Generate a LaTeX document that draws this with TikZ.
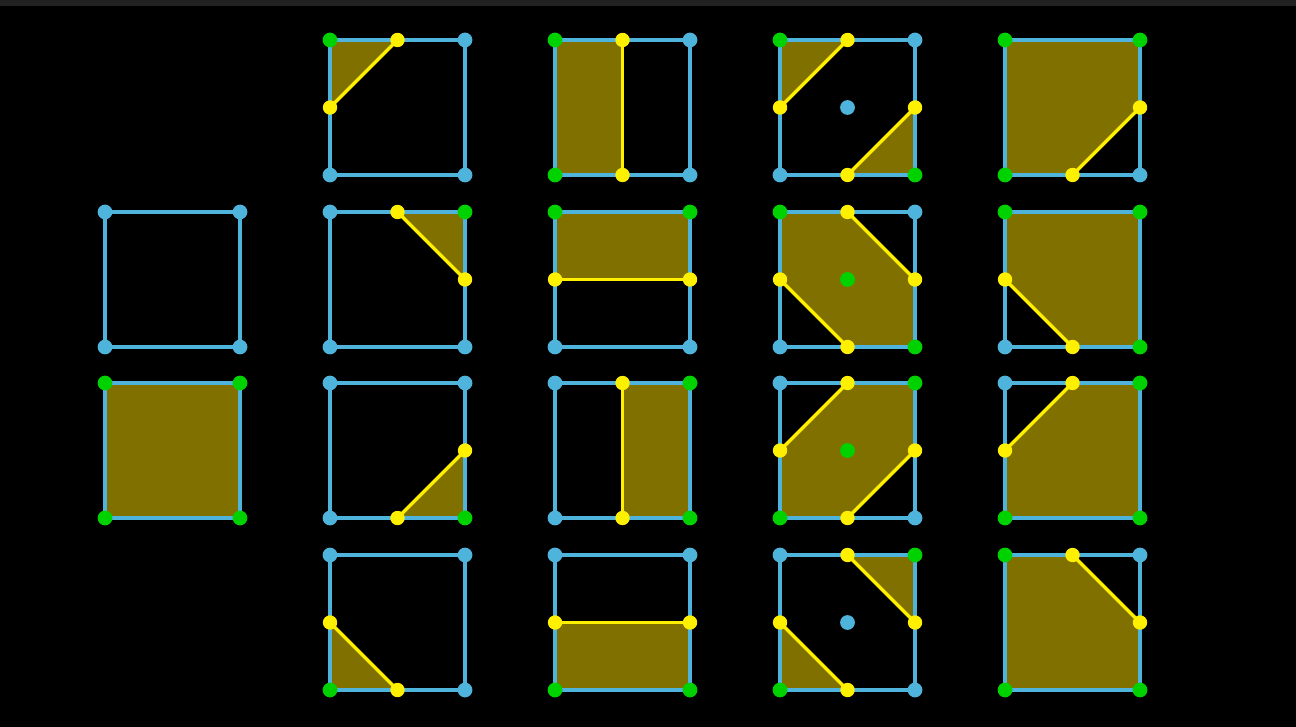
\documentclass[tikz,border=0pt]{standalone}
\usepackage{xcolor}
\usepackage{tikz}
\definecolor{MSbg}{HTML}{000000}
\definecolor{MSbar}{HTML}{222222}
\definecolor{MSedge}{HTML}{4FB4DC}
\definecolor{MSin}{HTML}{00D200}
\definecolor{MScut}{HTML}{FFF000}
\definecolor{MSfill}{HTML}{807000}

% corner / midpoint coordinates of one cell (top-left at #1,#2)
\newcommand{\setcell}[2]{%
  \coordinate (tl) at (#1,#2);     \coordinate (tr) at (#1+135,#2);
  \coordinate (br) at (#1+135,#2+135); \coordinate (bl) at (#1,#2+135);
  \coordinate (t) at (#1+67.5,#2);  \coordinate (r) at (#1+135,#2+67.5);
  \coordinate (b) at (#1+67.5,#2+135); \coordinate (l) at (#1,#2+67.5);
  \coordinate (c) at (#1+67.5,#2+67.5);
  \draw[edge] (tl) rectangle (br);}
\newcommand{\corners}[4]{%
  \fill[#1] (tl) circle (3.7pt); \fill[#2] (tr) circle (3.7pt);
  \fill[#3] (br) circle (3.7pt); \fill[#4] (bl) circle (3.7pt);}
\newcommand{\cutline}[2]{%
  \draw[cut] (#1) -- (#2);
  \fill[MScut] (#1) circle (3.6pt); \fill[MScut] (#2) circle (3.6pt);}

\begin{document}
\begin{tikzpicture}[
  x=0.5pt, y=-0.5pt,
  edge/.style={draw=MSedge, line width=1.7pt},
  cut/.style={draw=MScut, line width=1.6pt},
  area/.style={fill=MSfill},
  inside/.style={fill=MSin},
  outside/.style={fill=MSedge},
]
\useasboundingbox (0,0) rectangle (1296,727);
\fill[MSbg] (0,0) rectangle (1296,727);
\fill[MSbar] (0,0) rectangle (1296,6);

% ── column 0: empty / full ───────────────────────────────────────────
\setcell{105}{212}
\corners{outside}{outside}{outside}{outside}

\setcell{105}{383}
\fill[area] (tl) rectangle (br); \draw[edge] (tl) rectangle (br);
\corners{inside}{inside}{inside}{inside}

% ── column 1: one corner inside ──────────────────────────────────────
\setcell{330}{40}
\fill[area] (tl) -- (t) -- (l) -- cycle; \draw[edge] (tl) rectangle (br);
\cutline{t}{l}
\corners{inside}{outside}{outside}{outside}

\setcell{330}{212}
\fill[area] (t) -- (tr) -- (r) -- cycle; \draw[edge] (tl) rectangle (br);
\cutline{t}{r}
\corners{outside}{inside}{outside}{outside}

\setcell{330}{383}
\fill[area] (r) -- (br) -- (b) -- cycle; \draw[edge] (tl) rectangle (br);
\cutline{r}{b}
\corners{outside}{outside}{inside}{outside}

\setcell{330}{555}
\fill[area] (l) -- (b) -- (bl) -- cycle; \draw[edge] (tl) rectangle (br);
\cutline{l}{b}
\corners{outside}{outside}{outside}{inside}

% ── column 2: two adjacent corners ───────────────────────────────────
\setcell{555}{40}
\fill[area] (tl) -- (t) -- (b) -- (bl) -- cycle; \draw[edge] (tl) rectangle (br);
\cutline{t}{b}
\corners{inside}{outside}{outside}{inside}

\setcell{555}{212}
\fill[area] (tl) -- (tr) -- (r) -- (l) -- cycle; \draw[edge] (tl) rectangle (br);
\cutline{l}{r}
\corners{inside}{inside}{outside}{outside}

\setcell{555}{383}
\fill[area] (t) -- (tr) -- (br) -- (b) -- cycle; \draw[edge] (tl) rectangle (br);
\cutline{t}{b}
\corners{outside}{inside}{inside}{outside}

\setcell{555}{555}
\fill[area] (l) -- (r) -- (br) -- (bl) -- cycle; \draw[edge] (tl) rectangle (br);
\cutline{l}{r}
\corners{outside}{outside}{inside}{inside}

% ── column 3: saddle cases, centre decides ───────────────────────────
\setcell{780}{40}
\fill[area] (tl) -- (t) -- (l) -- cycle (r) -- (br) -- (b) -- cycle;
\draw[edge] (tl) rectangle (br);
\cutline{t}{l} \cutline{r}{b}
\corners{inside}{outside}{inside}{outside}
\fill[outside] (c) circle (3.7pt);

\setcell{780}{212}
\fill[area] (tl) -- (t) -- (r) -- (br) -- (b) -- (l) -- cycle;
\draw[edge] (tl) rectangle (br);
\cutline{t}{r} \cutline{l}{b}
\corners{inside}{outside}{inside}{outside}
\fill[inside] (c) circle (3.7pt);

\setcell{780}{383}
\fill[area] (t) -- (tr) -- (r) -- (b) -- (bl) -- (l) -- cycle;
\draw[edge] (tl) rectangle (br);
\cutline{l}{t} \cutline{r}{b}
\corners{outside}{inside}{outside}{inside}
\fill[inside] (c) circle (3.7pt);

\setcell{780}{555}
\fill[area] (t) -- (tr) -- (r) -- cycle (l) -- (b) -- (bl) -- cycle;
\draw[edge] (tl) rectangle (br);
\cutline{t}{r} \cutline{l}{b}
\corners{outside}{inside}{outside}{inside}
\fill[outside] (c) circle (3.7pt);

% ── column 4: three corners inside ───────────────────────────────────
\setcell{1005}{40}
\fill[area] (tl) -- (tr) -- (r) -- (b) -- (bl) -- cycle; \draw[edge] (tl) rectangle (br);
\cutline{r}{b}
\corners{inside}{inside}{outside}{inside}

\setcell{1005}{212}
\fill[area] (tl) -- (tr) -- (br) -- (b) -- (l) -- cycle; \draw[edge] (tl) rectangle (br);
\cutline{l}{b}
\corners{inside}{inside}{inside}{outside}

\setcell{1005}{383}
\fill[area] (t) -- (tr) -- (br) -- (bl) -- (l) -- cycle; \draw[edge] (tl) rectangle (br);
\cutline{l}{t}
\corners{outside}{inside}{inside}{inside}

\setcell{1005}{555}
\fill[area] (tl) -- (t) -- (r) -- (br) -- (bl) -- cycle; \draw[edge] (tl) rectangle (br);
\cutline{t}{r}
\corners{inside}{outside}{inside}{inside}

\end{tikzpicture}
\end{document}
